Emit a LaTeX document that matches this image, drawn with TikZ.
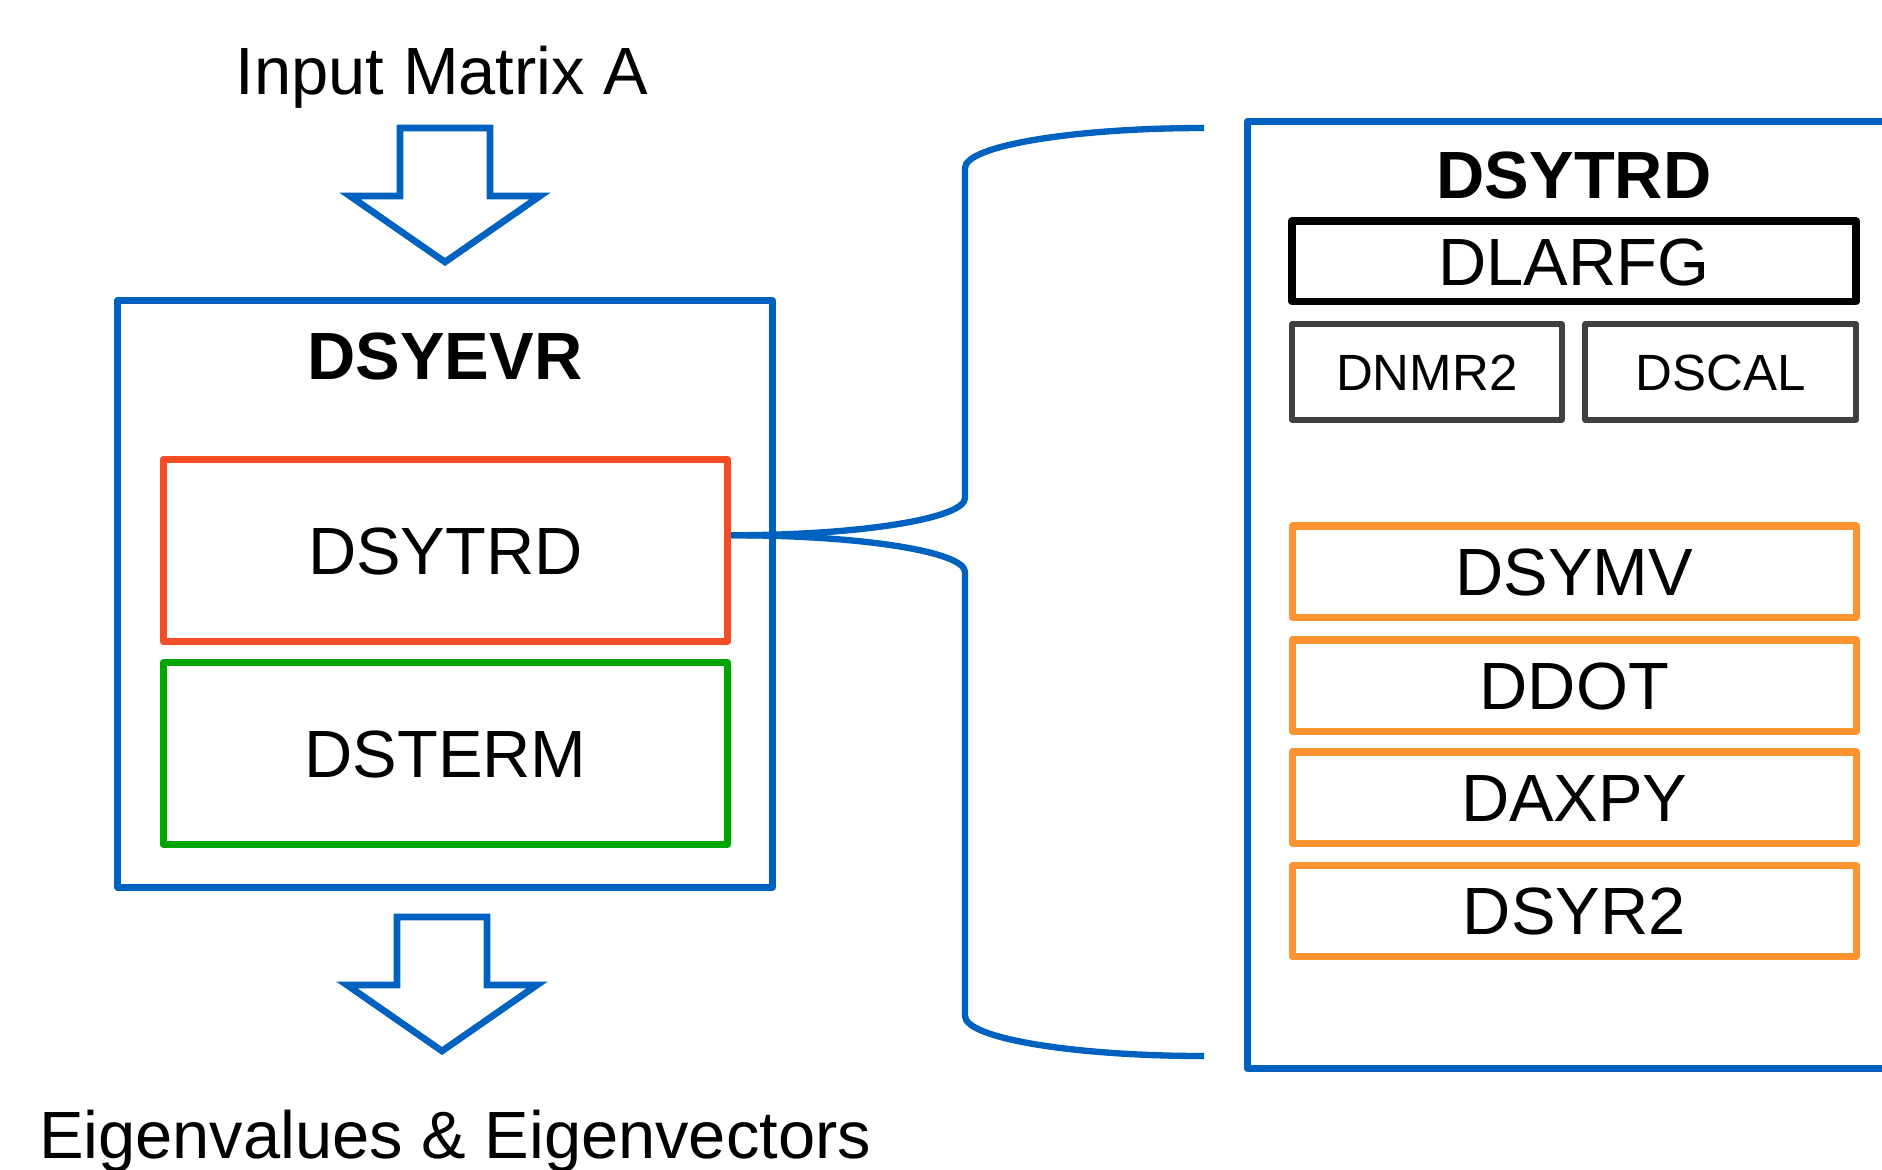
\documentclass[tikz,border=0pt]{standalone}
\usepackage{fontspec}
\setmainfont{Liberation Sans}
\definecolor{lapblue}{RGB}{0,98,192}
\definecolor{lapred}{RGB}{244,76,36}
\definecolor{lapgreen}{RGB}{0,166,0}
\definecolor{laporange}{RGB}{255,147,47}
\definecolor{lapgray}{RGB}{64,64,64}
\begin{document}
\begin{tikzpicture}[
  x=0.01cm, y=-0.01cm,
  bigfont/.style={font=\fontsize{19}{22}\selectfont},
  smallfont/.style={font=\fontsize{14.5}{17}\selectfont},
  routine/.style={draw, line width=2pt, line join=round, inner sep=0pt, bigfont,
    text height=13.6pt, text depth=0pt},
  smallroutine/.style={routine, smallfont, line width=1.7pt, text height=10.4pt},
  container/.style={draw=lapblue, line width=2pt, line join=round, inner sep=0pt},
  caption/.style={anchor=base, inner sep=0pt, bigfont},
  title/.style={anchor=base, inner sep=0pt, font=\fontsize{19}{22}\selectfont\bfseries},
  arrowline/.style={draw=lapblue, line width=1.9pt, line join=miter},
  braceline/.style={draw=lapblue, line width=1.8pt},
  pics/blockdown/.style={code={
    \path[arrowline] (-45,0) -- (45,0) -- (45,68) -- (95,68) -- (0,134)
      -- (-95,68) -- (-45,68) -- cycle;
  }}
]
\useasboundingbox (0,0) rectangle (1882,1169);
\clip (0,0) rectangle (1882,1169);

% driver routine with its two stages
\node[caption] (input) at (442,94) {Input Matrix A};
\pic (inarrow) at (445,128) {blockdown};
\node[container, minimum width=6.54cm, minimum height=5.865cm] (dsyevr) at (445,593.75) {};
\node[title] (dsyevrtitle) at (445,379) {DSYEVR};
\node[routine, draw=lapred, minimum width=5.64cm, minimum height=1.815cm]
  (dsytrd) at (445.5,550.25) {DSYTRD};
\node[routine, draw=lapgreen, minimum width=5.64cm, minimum height=1.81cm]
  (dsterm) at (445.5,753.5) {DSTERM};
\pic (outarrow) at (442,917) {blockdown};
\node[caption] (output) at (455,1158) {Eigenvalues \& Eigenvectors};

% expanded view of the reduction routine
\node[container, minimum width=6.55cm, minimum height=9.465cm] (panel) at (1575,594.75) {};
\node[title] (paneltitle) at (1574,198) {DSYTRD};
\node[routine, draw=black, line width=2.1pt, minimum width=5.64cm, minimum height=0.805cm]
  (dlarfg) at (1574,261.25) {DLARFG};
\node[smallroutine, draw=lapgray, minimum width=2.695cm, minimum height=0.95cm]
  (dnmr2) at (1426.75,372) {DNMR2};
\node[smallroutine, draw=lapgray, minimum width=2.705cm, minimum height=0.95cm]
  (dscal) at (1720.75,372) {DSCAL};
\foreach \name/\label/\y in {dsymv/DSYMV/571.5, ddot/DDOT/685.5, daxpy/DAXPY/797.5, dsyr2/DSYR2/911}
  \node[routine, draw=laporange, minimum width=5.635cm, minimum height=0.91cm]
    (\name) at (1574.25,\y) {\label};

% curly brace from the reduction stage to its expansion
\coordinate (bracetip) at ([yshift=0.15cm]dsytrd.east);
\coordinate (bracetop) at (1204,128);
\coordinate (bracebot) at (1204,1056);
\path[braceline] (bracetip) .. controls +(132,0) and (965,518) .. (965,498)
  -- (965,168) .. controls (965,146) and (1072,128) .. (bracetop);
\path[braceline] (bracetip) .. controls +(132,0) and (965,552) .. (965,572)
  -- (965,1016) .. controls (965,1038) and (1072,1056) .. (bracebot);
\end{tikzpicture}
\end{document}
